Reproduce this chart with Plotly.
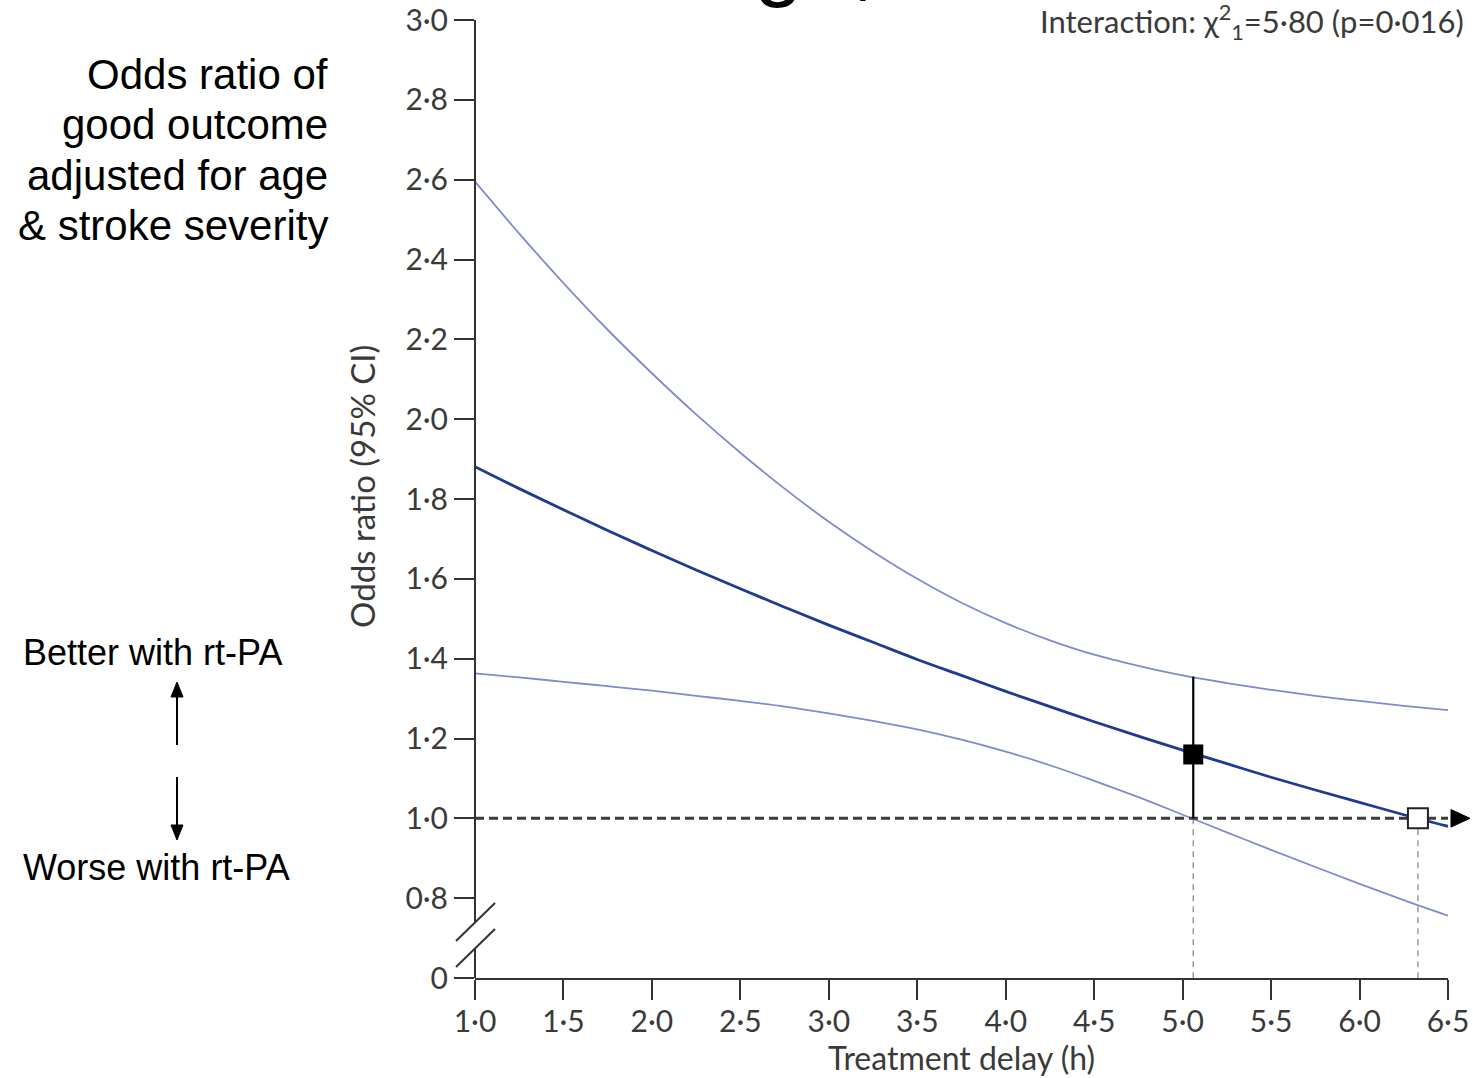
import plotly.graph_objects as go

# ---- data ----
delay = [1.0, 1.25, 1.5, 1.75, 2.0, 2.25, 2.5, 2.75, 3.0, 3.25, 3.5, 3.75,
         4.0, 4.25, 4.5, 4.75, 5.0, 5.25, 5.5, 5.75, 6.0, 6.25, 6.5]
odds_ratio = [1.881, 1.826, 1.773, 1.721, 1.671, 1.622, 1.575, 1.529, 1.484, 1.441,
              1.398, 1.358, 1.318, 1.280, 1.242, 1.206, 1.171, 1.137, 1.103, 1.071,
              1.040, 1.009, 0.980]
ci_upper = [2.595, 2.465, 2.341, 2.224, 2.115, 2.012, 1.916, 1.826, 1.743, 1.668,
            1.600, 1.540, 1.489, 1.446, 1.410, 1.382, 1.358, 1.339, 1.322, 1.307,
            1.294, 1.282, 1.271]
ci_lower = [1.363, 1.353, 1.342, 1.331, 1.320, 1.307, 1.294, 1.280, 1.263, 1.244,
            1.223, 1.197, 1.167, 1.133, 1.094, 1.053, 1.009, 0.965, 0.921, 0.878,
            0.836, 0.795, 0.756]

point_delay = [5.06]
point_or = [1.16]
point_ci_high = [1.355]
point_ci_low = [1.0]

neutral_delay = [6.33]
neutral_or = [1.0]

ref_x = [1.0, 6.5]
ref_y = [1.0, 1.0]
y_floor = 0.6  # position labelled "0" after the axis break

x_ticks = [1.0, 1.5, 2.0, 2.5, 3.0, 3.5, 4.0, 4.5, 5.0, 5.5, 6.0, 6.5]
x_tick_text = ["1·0", "1·5", "2·0", "2·5", "3·0", "3·5", "4·0", "4·5", "5·0", "5·5", "6·0", "6·5"]
y_ticks = [0.6, 0.8, 1.0, 1.2, 1.4, 1.6, 1.8, 2.0, 2.2, 2.4, 2.6, 2.8, 3.0]
y_tick_text = ["0", "0·8", "1·0", "1·2", "1·4", "1·6", "1·8", "2·0", "2·2", "2·4", "2·6", "2·8", "3·0"]

CI_COLOR = "#7f8ad2"
MAIN_COLOR = "#1f3a92"
AXIS_COLOR = "#333333"
TICK_FONT = dict(family="Lato", size=30, color="#3a3a3a")

# pixel helpers for layout-only decorations (plot area: x 475..1448, y 20..978)
L, R, T, B = 475, 25, 20, 100
W, H = 1473, 1078
PW, PH = W - L - R, H - T - B


def px_x(p):
    return (p - L) / PW


def px_y(p):
    return (H - B - p) / PH


fig = go.Figure()

fig.add_trace(go.Scatter(x=delay, y=ci_upper, mode="lines",
                         line=dict(color=CI_COLOR, width=1.8, shape="spline"), hoverinfo="skip"))
fig.add_trace(go.Scatter(x=delay, y=ci_lower, mode="lines",
                         line=dict(color=CI_COLOR, width=1.8, shape="spline"), hoverinfo="skip"))
fig.add_trace(go.Scatter(x=delay, y=odds_ratio, mode="lines",
                         line=dict(color=MAIN_COLOR, width=2.8, shape="spline")))

for dx, dy in [(point_delay[0], point_ci_low[0]), (neutral_delay[0], neutral_or[0])]:
    fig.add_trace(go.Scatter(x=[dx, dx], y=[dy, y_floor], mode="lines",
                             line=dict(color="#8c8c8c", width=1.3, dash="6px,5px"),
                             hoverinfo="skip"))

fig.add_trace(go.Scatter(x=ref_x, y=ref_y, mode="lines",
                         line=dict(color="#3c3c3c", width=3, dash="9px,5px"), hoverinfo="skip"))

fig.add_trace(go.Scatter(
    x=point_delay, y=point_or, mode="markers", cliponaxis=False,
    marker=dict(symbol="square", size=20, color="black"),
    error_y=dict(type="data", symmetric=False,
                 array=[point_ci_high[0] - point_or[0]],
                 arrayminus=[point_or[0] - point_ci_low[0]],
                 color="black", thickness=2.2, width=0)))
fig.add_trace(go.Scatter(x=neutral_delay, y=neutral_or, mode="markers", cliponaxis=False,
                         marker=dict(symbol="square", size=20, color="white",
                                     line=dict(color="#222222", width=2))))

ax = px_x(177)
shapes = [
    # y axis with break
    dict(type="line", xref="paper", yref="y", x0=0, x1=0, y0=0.739, y1=3.0,
         line=dict(color=AXIS_COLOR, width=2)),
    dict(type="line", xref="paper", yref="y", x0=0, x1=0, y0=0.6, y1=0.674,
         line=dict(color=AXIS_COLOR, width=2)),
    dict(type="line", xref="paper", yref="y", x0=px_x(456), x1=px_x(495), y0=0.6927, y1=0.7879,
         line=dict(color=AXIS_COLOR, width=2)),
    dict(type="line", xref="paper", yref="y", x0=px_x(456), x1=px_x(495), y0=0.6276, y1=0.7227,
         line=dict(color=AXIS_COLOR, width=2)),
    # arrow head at end of reference line
    dict(type="path", xref="paper", yref="y",
         path=f"M {px_x(1451)},{ref_y[0] - 0.022} L {px_x(1470)},{ref_y[0]} L {px_x(1451)},{ref_y[0] + 0.022} Z",
         fillcolor="black", line=dict(color="black", width=1)),
    # left side arrows
    dict(type="line", xref="paper", yref="paper", x0=ax, x1=ax, y0=px_y(745), y1=px_y(694),
         line=dict(color="black", width=2)),
    dict(type="path", xref="paper", yref="paper",
         path=f"M {px_x(171)},{px_y(697)} L {ax},{px_y(682)} L {px_x(183)},{px_y(697)} Z",
         fillcolor="black", line=dict(color="black", width=1)),
    dict(type="line", xref="paper", yref="paper", x0=ax, x1=ax, y0=px_y(777), y1=px_y(828),
         line=dict(color="black", width=2)),
    dict(type="path", xref="paper", yref="paper",
         path=f"M {px_x(171)},{px_y(825)} L {ax},{px_y(840)} L {px_x(183)},{px_y(825)} Z",
         fillcolor="black", line=dict(color="black", width=1)),
]

annotations = [
    dict(text="Odds ratio (95% CI)", xref="paper", yref="paper", x=px_x(362), y=px_y(487),
         textangle=-90, showarrow=False, xanchor="center", yanchor="middle",
         font=dict(family="Lato", size=33, color="#3a3a3a")),
    dict(text="Treatment delay (h)", xref="paper", yref="paper", x=px_x(961), y=px_y(1057),
         showarrow=False, xanchor="center", yanchor="middle",
         font=dict(family="Lato", size=32, color="#3a3a3a")),
    dict(text="Interaction: χ<sup>2</sup><sub>1</sub>=5·80 (p=0·016)", xref="paper", yref="paper",
         x=px_x(1466), y=px_y(22), showarrow=False, xanchor="right", yanchor="middle",
         font=dict(family="Lato", size=31, color="#3a3a3a")),
    dict(text="ge,", xref="paper", yref="paper", x=px_x(752), y=px_y(11), showarrow=False,
         xanchor="left", yanchor="bottom",
         font=dict(family="Liberation Sans, Arial", size=88, color="black")),
]

left_lines = ["Odds ratio of", "good outcome", "adjusted for age", "& stroke severity"]
left_centers = [74, 124, 175, 226]
for txt, cy in zip(left_lines, left_centers):
    annotations.append(dict(text=txt, xref="paper", yref="paper", x=px_x(330), y=px_y(cy),
                            showarrow=False, xanchor="right", yanchor="middle",
                            font=dict(family="Liberation Sans, Arial", size=42, color="black")))

annotations += [
    dict(text="Better with rt-PA", xref="paper", yref="paper", x=px_x(21),
         y=px_y(652), showarrow=False, xanchor="left", yanchor="middle",
         font=dict(family="Liberation Sans, Arial", size=36, color="black")),
    dict(text="Worse with rt-PA", xref="paper", yref="paper", x=px_x(21),
         y=px_y(867), showarrow=False, xanchor="left", yanchor="middle",
         font=dict(family="Liberation Sans, Arial", size=36, color="black")),
]

fig.update_layout(
    width=W, height=H,
    margin=dict(l=L, r=R, t=T, b=B, autoexpand=False),
    paper_bgcolor="white", plot_bgcolor="white",
    showlegend=False,
    font=dict(family="Lato"),
    shapes=shapes,
    annotations=annotations,
    xaxis=dict(range=[1.0, 6.5], tickvals=x_ticks, ticktext=x_tick_text, automargin=False,
               showline=True, linecolor=AXIS_COLOR, linewidth=2,
               ticks="outside", ticklen=20, tickwidth=2, tickcolor=AXIS_COLOR,
               ticklabelstandoff=-4,
               showgrid=False, zeroline=False, tickfont=TICK_FONT),
    yaxis=dict(range=[0.6, 3.0], tickvals=y_ticks, ticktext=y_tick_text, automargin=False,
               showline=False, ticks="outside", ticklen=20, tickwidth=2,
               tickcolor=AXIS_COLOR, showgrid=False, zeroline=False, tickfont=TICK_FONT),
)

fig.write_html("out.html", config={"displayModeBar": False},
               post_script="document.body.style.margin='0';")
